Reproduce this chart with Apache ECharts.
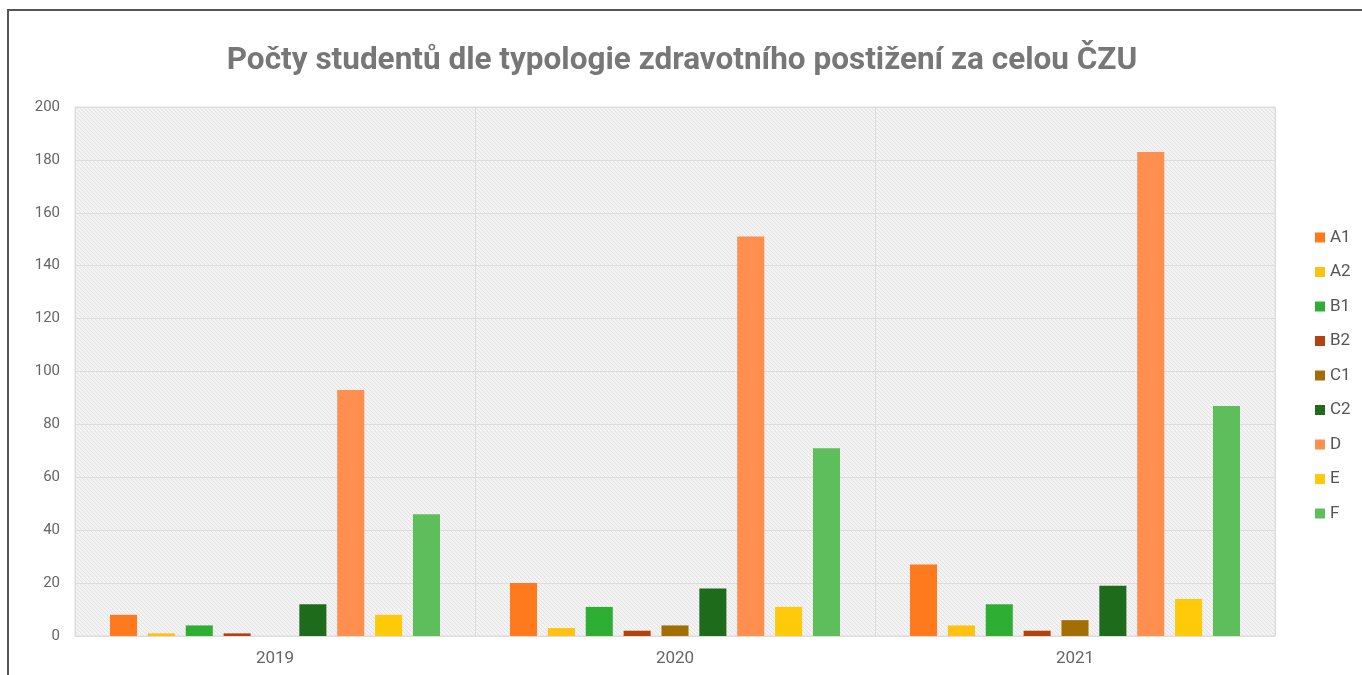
<!DOCTYPE html>
<html><head><meta charset="utf-8">
<script src="https://cdn.jsdelivr.net/npm/echarts@6/dist/echarts.min.js"></script>
<style>html,body{margin:0;padding:0;background:#fff}#c{width:1362px;height:675px}</style>
</head><body><div id="c"></div>
<script>
const years = ['2019', '2020', '2021'];
const seriesNames = ['A1', 'A2', 'B1', 'B2', 'C1', 'C2', 'D', 'E', 'F'];
const A1 = [8, 20, 27];
const A2 = [1, 3, 4];
const B1 = [4, 11, 12];
const B2 = [1, 2, 2];
const C1 = [0, 4, 6];
const C2 = [12, 18, 19];
const D = [93, 151, 183];
const E = [8, 11, 14];
const F = [46, 71, 87];
const yTicks = [0, 20, 40, 60, 80, 100, 120, 140, 160, 180, 200];

const values = [A1, A2, B1, B2, C1, C2, D, E, F];
const colors = ['#FF7A1C', '#FFC20E', '#2FAE34', '#B5420E', '#A36F05', '#1E6B1C', '#FF8F4F', '#FFCA0A', '#5EBE5C'];

const pc = document.createElement('canvas');
pc.width = 4; pc.height = 4;
const g = pc.getContext('2d');
g.fillStyle = '#f3f3f3'; g.fillRect(0, 0, 4, 4);
g.fillStyle = '#e2e2e2';
for (let i = 0; i < 4; i++) g.fillRect(i, i, 1, 1);

const chart = echarts.init(document.getElementById('c'));
chart.setOption({
  animation: false,
  backgroundColor: '#fff',
  title: {
    text: 'Počty studentů dle typologie zdravotního postižení za celou ČZU',
    left: 677, textAlign: 'center', top: 40,
    textStyle: { fontFamily: 'Roboto', fontWeight: 'bold', fontSize: 31.5, color: '#777' }
  },
  legend: {
    orient: 'vertical', left: 1310, top: 224, itemGap: 17.5,
    itemWidth: 10, itemHeight: 10, icon: 'rect',
    textStyle: { fontFamily: 'Roboto', fontSize: 17, color: '#555' },
    data: seriesNames
  },
  grid: {
    left: 75, right: 87, top: 107, bottom: 39, containLabel: false,
    show: true, backgroundColor: { image: pc, repeat: 'repeat' }, borderColor: '#ddd', borderWidth: 1
  },
  xAxis: {
    type: 'category', data: years,
    axisLine: { show: true, lineStyle: { color: '#ddd' } },
    axisTick: { show: false },
    splitLine: { show: true, lineStyle: { color: '#ddd' } },
    axisLabel: { fontFamily: 'Roboto', fontSize: 17, color: '#666', margin: 14 }
  },
  yAxis: {
    type: 'value', min: yTicks[0], max: yTicks[yTicks.length - 1], interval: 20,
    axisLine: { show: false }, axisTick: { show: false },
    splitLine: { lineStyle: { color: '#ddd' } },
    axisLabel: { fontFamily: 'Roboto', fontSize: 15, color: '#666', margin: 15 }
  },
  graphic: [{
    type: 'rect', shape: { x: 8, y: 10, width: 1500, height: 800 },
    style: { fill: 'none', stroke: '#555', lineWidth: 2 }, silent: true
  }],
  series: seriesNames.map((n, i) => ({
    name: n, type: 'bar', data: values[i],
    itemStyle: { color: colors[i] },
    barGap: '40%', barCategoryGap: '17.5%'
  }))
});
</script></body></html>
